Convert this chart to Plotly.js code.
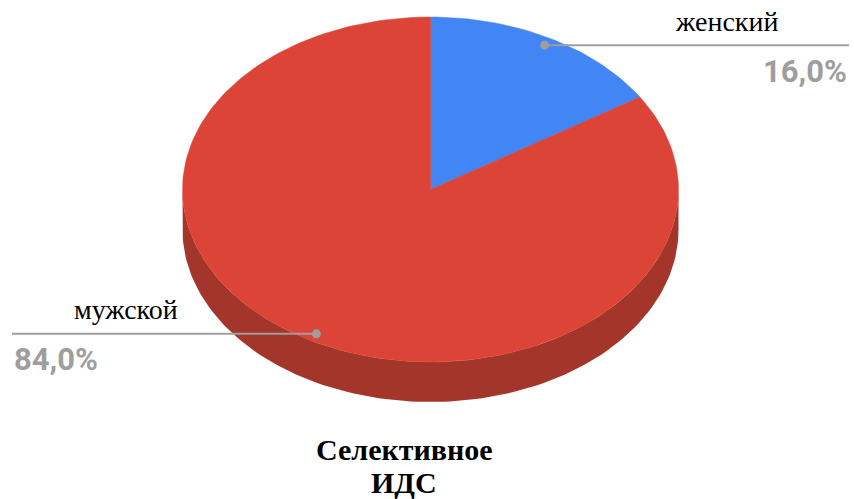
<!DOCTYPE html>
<html>
<head>
<meta charset="utf-8">
<script src="https://cdn.plot.ly/plotly-3.0.1.min.js"></script>
<style>html,body{margin:0;padding:0;background:#fff;}#chart{width:854px;height:499px;}</style>
</head>
<body>
<div id="chart"></div>
<script>
// ---- data ----
const categories = ['женский', 'мужской'];
const values = [16.0, 84.0];
const valueLabels = ['16,0%', '84,0%'];
const titleLines = ['Селективное', 'ИДС'];

// ---- style / geometry ----
const topColors = ['#4285f4', '#db4437'];
const sideColors = ['#2f5fb0', '#a4352b'];
const CX = 430.5, CY = 189.5, RX = 248, RY = 172.5, DEPTH = 40;
const LABEL_R = 0.955;
const W = 854, H = 499;
const SERIF = "'Liberation Serif', 'Times New Roman', Times, serif";

function pt(deg, f) {
  const t = deg * Math.PI / 180;
  return [CX + RX * f * Math.sin(t), CY - RY * f * Math.cos(t)];
}

const total = values.reduce((a, b) => a + b, 0);
const traces = [];
const annotations = [];
let start = 0;
const slices = values.map((v, i) => {
  const a0 = start, a1 = start + v / total * 360;
  start = a1;
  return {a0, a1, i};
});

// side (visible front half 90..270 deg)
slices.forEach(s => {
  const lo = Math.max(s.a0, 90), hi = Math.min(s.a1, 270);
  if (hi <= lo) return;
  const xs = [], ys = [];
  for (let k = 0; k <= 120; k++) {
    const p = pt(lo + (hi - lo) * k / 120, 1);
    xs.push(p[0]); ys.push(p[1]);
  }
  for (let k = 120; k >= 0; k--) {
    const p = pt(lo + (hi - lo) * k / 120, 1);
    xs.push(p[0]); ys.push(p[1] + DEPTH);
  }
  traces.push({type: 'scatter', mode: 'lines', x: xs, y: ys, fill: 'toself',
    fillcolor: sideColors[s.i], line: {width: 0, color: sideColors[s.i]}, hoverinfo: 'skip', showlegend: false});
});

// top faces
slices.forEach(s => {
  const xs = [CX], ys = [CY];
  const n = Math.max(8, Math.ceil((s.a1 - s.a0) / 1.5));
  for (let k = 0; k <= n; k++) {
    const p = pt(s.a0 + (s.a1 - s.a0) * k / n, 1);
    xs.push(p[0]); ys.push(p[1]);
  }
  xs.push(CX); ys.push(CY);
  traces.push({type: 'scatter', mode: 'lines', x: xs, y: ys, fill: 'toself',
    fillcolor: topColors[s.i], line: {width: 0.5, color: topColors[s.i]}, hoverinfo: 'skip', showlegend: false,
    name: categories[s.i]});
});

// leader lines + labels
slices.forEach(s => {
  const mid = (s.a0 + s.a1) / 2;
  const p = pt(mid, LABEL_R);
  const right = Math.sin(mid * Math.PI / 180) >= 0;
  const endX = right ? 849 : 12;
  traces.push({type: 'scatter', mode: 'lines', x: [p[0], endX], y: [p[1], p[1]],
    line: {color: '#9e9e9e', width: 2}, hoverinfo: 'skip', showlegend: false});
  traces.push({type: 'scatter', mode: 'markers', x: [p[0]], y: [p[1]],
    marker: {color: '#9e9e9e', size: 9}, hoverinfo: 'skip', showlegend: false});
  annotations.push({x: right ? 726 : 126, y: p[1] - 24, xref: 'x', yref: 'y', text: categories[s.i],
    showarrow: false, xanchor: 'center', yanchor: 'middle',
    font: {family: SERIF, size: 28, color: '#000'}});
  annotations.push({x: endX, y: p[1] + 26, xref: 'x', yref: 'y', text: valueLabels[s.i],
    showarrow: false, xanchor: right ? 'right' : 'left', yanchor: 'middle',
    font: {family: 'Roboto, Arial, sans-serif', size: 31, color: '#9e9e9e', weight: 'bold'}});
});

annotations.push({x: 404, y: 449, xref: 'x', yref: 'y', text: '<b>' + titleLines[0] + '</b>', showarrow: false,
  xanchor: 'center', yanchor: 'middle', font: {family: SERIF, size: 30, color: '#000'}});
annotations.push({x: 404, y: 482, xref: 'x', yref: 'y', text: '<b>' + titleLines[1] + '</b>', showarrow: false,
  xanchor: 'center', yanchor: 'middle', font: {family: SERIF, size: 30, color: '#000'}});

const layout = {
  width: W, height: H,
  margin: {l: 0, r: 0, t: 0, b: 0},
  paper_bgcolor: '#fff', plot_bgcolor: '#fff',
  xaxis: {range: [0, W], visible: false, fixedrange: true},
  yaxis: {range: [H, 0], visible: false, fixedrange: true},
  annotations: annotations,
  showlegend: false,
  hovermode: false
};
Plotly.newPlot('chart', traces, layout, {displayModeBar: false, staticPlot: true});
</script>
</body>
</html>
